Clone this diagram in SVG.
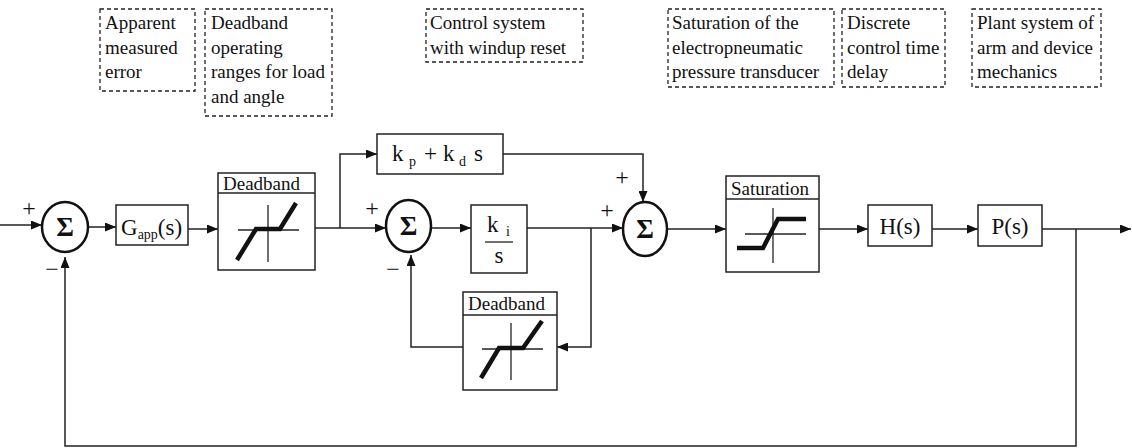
<svg xmlns="http://www.w3.org/2000/svg" width="1132" height="448" viewBox="0 0 1132 448">
<style>
text{font-family:'Liberation Serif','Times New Roman','DejaVu Serif',serif}
.note{fill:none;stroke:#222;stroke-width:1.3;stroke-dasharray:4,3}
.nt{font-size:19px;fill:#111}
.box{fill:#fff;stroke:#222;stroke-width:1.5}
.sum{fill:#fff;stroke:#111;stroke-width:2.5}
.sig{font-size:27px;fill:#111;text-anchor:middle;font-weight:bold}
.lbl{font-size:23px;fill:#111}
.hdr{font-size:19px;fill:#111}
.sub{font-size:14px;fill:#111}
.pm{font-size:24px;fill:#111;text-anchor:middle}
.ax{fill:none;stroke:#222;stroke-width:1.3}
.th{fill:none;stroke:#111;stroke-width:4.5;stroke-linejoin:miter}
.wire{fill:none;stroke:#222;stroke-width:1.5}
</style>
<defs>
<marker id="ah" markerWidth="11" markerHeight="9" refX="11" refY="4.5" orient="auto" markerUnits="userSpaceOnUse">
<path d="M0,0 L11,4.5 L0,9 z" fill="#111"/>
</marker>
</defs>

<g id="notes">
<g id="note-error">
<rect class="note" x="100" y="9" width="95" height="82"/>
<text class="nt" x="105" y="29">Apparent</text>
<text class="nt" x="105" y="53.5">measured</text>
<text class="nt" x="105" y="78">error</text>
</g>
<g id="note-deadband">
<rect class="note" x="205" y="9" width="127" height="107"/>
<text class="nt" x="211" y="29">Deadband</text>
<text class="nt" x="211" y="53.5">operating</text>
<text class="nt" x="211" y="78">ranges for load</text>
<text class="nt" x="211" y="102.5">and angle</text>
</g>
<g id="note-control">
<rect class="note" x="426" y="9" width="157" height="53"/>
<text class="nt" x="430" y="29">Control system</text>
<text class="nt" x="430" y="53.5">with windup reset</text>
</g>
<g id="note-saturation">
<rect class="note" x="668" y="9" width="166" height="78"/>
<text class="nt" x="672" y="29">Saturation of the</text>
<text class="nt" x="672" y="53.5">electropneumatic</text>
<text class="nt" x="672" y="78">pressure transducer</text>
</g>
<g id="note-delay">
<rect class="note" x="842" y="9" width="103" height="78"/>
<text class="nt" x="847" y="29">Discrete</text>
<text class="nt" x="847" y="53.5">control time</text>
<text class="nt" x="847" y="78">delay</text>
</g>
<g id="note-plant">
<rect class="note" x="972" y="9" width="129" height="78"/>
<text class="nt" x="977" y="29">Plant system of</text>
<text class="nt" x="977" y="53.5">arm and device</text>
<text class="nt" x="977" y="78">mechanics</text>
</g>
</g>

<g id="connectors">
<line class="wire" x1="0" y1="225" x2="42" y2="225" marker-end="url(#ah)"/>
<line class="wire" x1="88" y1="227" x2="116" y2="227" marker-end="url(#ah)"/>
<line class="wire" x1="188" y1="229" x2="218" y2="229" marker-end="url(#ah)"/>
<line class="wire" x1="315" y1="228" x2="386" y2="228" marker-end="url(#ah)"/>
<polyline class="wire" points="340,228 340,154 377,154" marker-end="url(#ah)"/>
<polyline class="wire" points="503,154 643,154 643,202" marker-end="url(#ah)"/>
<line class="wire" x1="431" y1="228" x2="471" y2="228" marker-end="url(#ah)"/>
<line class="wire" x1="527" y1="228" x2="623" y2="228" marker-end="url(#ah)"/>
<polyline class="wire" points="591,228 591,347 557,347" marker-end="url(#ah)"/>
<polyline class="wire" points="463,347 411,347 411,255" marker-end="url(#ah)"/>
<line class="wire" x1="667" y1="229" x2="726" y2="229" marker-end="url(#ah)"/>
<line class="wire" x1="819" y1="229" x2="868" y2="229" marker-end="url(#ah)"/>
<line class="wire" x1="932" y1="229" x2="978" y2="229" marker-end="url(#ah)"/>
<line class="wire" x1="1042" y1="229" x2="1131" y2="229" marker-end="url(#ah)"/>
<polyline class="wire" points="1076,229 1076,446 65,446 65,257" marker-end="url(#ah)"/>
</g>

<g id="sum1">
<ellipse class="sum" cx="65" cy="227" rx="23" ry="25"/>
<text class="sig" x="65" y="236">Σ</text>
<text class="pm" x="29" y="216">+</text>
<text class="pm" x="52" y="277">−</text>
</g>

<g id="gapp">
<rect class="box" x="116" y="205" width="72" height="40"/>
<text class="lbl" x="121" y="235">G<tspan class="sub" dy="4">app</tspan><tspan dy="-4">(s)</tspan></text>
</g>

<g id="deadband1">
<rect class="box" x="218" y="173" width="97" height="97"/>
<line class="ax" x1="218" y1="193" x2="315" y2="193"/>
<text class="hdr" x="223" y="190">Deadband</text>
<line class="ax" x1="268" y1="205" x2="268" y2="262"/>
<line class="ax" x1="238" y1="230" x2="299" y2="230"/>
<polyline class="th" points="237,260 256,229 280,229 296,203"/>
</g>

<g id="pd">
<rect class="box" x="377" y="134" width="126" height="40"/>
<text class="lbl" x="392" y="161">k</text>
<text class="sub" x="409" y="166">p</text>
<text class="lbl" x="424" y="161">+</text>
<text class="lbl" x="443" y="161">k</text>
<text class="sub" x="459" y="166">d</text>
<text class="lbl" x="474" y="161">s</text>
</g>

<g id="sum2">
<ellipse class="sum" cx="408.5" cy="226" rx="22.5" ry="26"/>
<text class="sig" x="408.5" y="235">Σ</text>
<text class="pm" x="372" y="216">+</text>
<text class="pm" x="393" y="277">−</text>
</g>

<g id="integrator">
<rect class="box" x="471" y="205" width="56" height="68"/>
<text class="lbl" x="487" y="232">k</text>
<text class="sub" x="506" y="236">i</text>
<line class="ax" x1="485" y1="242" x2="513" y2="242"/>
<text class="lbl" x="499" y="263" text-anchor="middle">s</text>
</g>

<g id="deadband2">
<rect class="box" x="463" y="292" width="94" height="98"/>
<line class="ax" x1="463" y1="315" x2="557" y2="315"/>
<text class="hdr" x="468" y="310">Deadband</text>
<line class="ax" x1="511" y1="323" x2="511" y2="380"/>
<line class="ax" x1="482" y1="349" x2="543" y2="349"/>
<polyline class="th" points="481,378 499,348 523,348 542,321"/>
</g>

<g id="sum3">
<ellipse class="sum" cx="645" cy="229" rx="22" ry="27"/>
<text class="sig" x="645" y="238">Σ</text>
<text class="pm" x="607" y="218">+</text>
<text class="pm" x="622" y="185">+</text>
</g>

<g id="saturation">
<rect class="box" x="726" y="176" width="93" height="96"/>
<line class="ax" x1="726" y1="199" x2="819" y2="199"/>
<text class="hdr" x="731" y="195">Saturation</text>
<line class="ax" x1="773" y1="208" x2="773" y2="263"/>
<line class="ax" x1="745" y1="234" x2="806" y2="234"/>
<polyline class="th" points="737,248 763,248 778,219 806,219"/>
</g>

<g id="hs">
<rect class="box" x="868" y="205" width="64" height="41"/>
<text class="lbl" x="900" y="234" text-anchor="middle">H(s)</text>
</g>

<g id="ps">
<rect class="box" x="978" y="205" width="64" height="41"/>
<text class="lbl" x="1010" y="234" text-anchor="middle">P(s)</text>
</g>
</svg>
